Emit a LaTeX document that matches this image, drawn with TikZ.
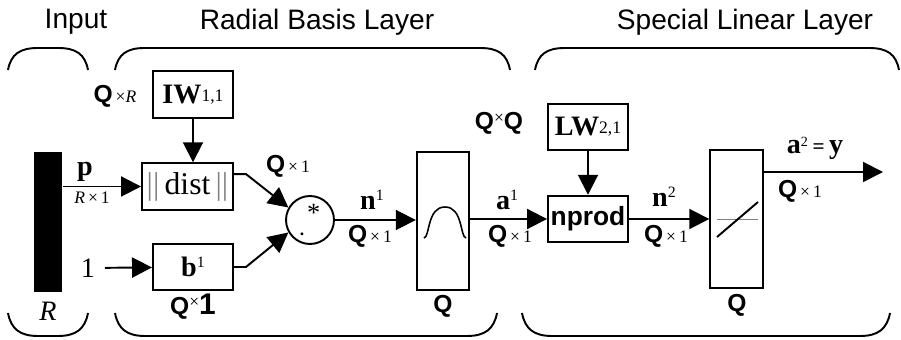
\documentclass[tikz,border=0pt]{standalone}
\usepackage{fontspec}
\setmainfont{Liberation Serif}
\setsansfont{Liberation Sans}
\usepackage{tikz}
\usetikzlibrary{arrows.meta, calc}

\newcommand{\fs}[1]{\fontsize{#1}{#1}\selectfont}
\newcommand{\qdim}[1]{{\sffamily\bfseries\fs{14}Q}{\fs{10}\,×\,#1}}

\begin{document}
\begin{tikzpicture}[
    x=0.02cm, y=-0.02cm,
    line width=1.1pt,
    wbox/.style={draw, minimum width=1.6cm, minimum height=0.93cm, inner sep=0pt, font=\fs{16}},
    tfbox/.style={draw, minimum width=1.05cm, minimum height=2.76cm, inner sep=0pt},
    arr/.style={-{Triangle[length=0.4cm, width=0.4cm]}},
    title/.style={font=\sffamily\fs{16}},
    lbl/.style={inner sep=0pt, font=\fs{16}},
]
    \useasboundingbox (0,0) rectangle (901,340);

    \node[title] (tin) at (76,22) {Input};
    \node[title] (trb) at (317,22) {Radial Basis Layer};
    \node[title] (tsl) at (745,22) {Special Linear Layer};

    \foreach \a/\b in {8/88, 115/510, 535/899}
        \draw (\a,70) .. controls (\a+3,54) and (\a+12,48) .. (\a+30,48) -- (\b-30,48)
              .. controls (\b-12,48) and (\b-3,54) .. (\b,70);
    \foreach \a/\b in {8/88, 115/497, 522/890}
        \draw (\a,313) .. controls (\a+3,329) and (\a+12,336) .. (\a+30,336) -- (\b-30,336)
              .. controls (\b-12,336) and (\b-3,329) .. (\b,313);

    \node[fill, minimum width=0.56cm, minimum height=2.8cm, inner sep=0pt] (bar) at (48,222) {};
    \node[lbl, font=\itshape\fs{16}] (rlbl) at (48,311) {R};

    \node[wbox] (iw) at (193,94.5) {\textbf{IW}\raisebox{1pt}{\fs{10}1,1}};
    \node[wbox, minimum width=1.82cm, font=\fs{18}] (dist) at (187.5,186.5) {\textcolor{gray}{||}\,dist\,\textcolor{gray}{||}};
    \node[wbox] (b) at (193,267) {\textbf{b}\raisebox{5pt}{\fs{9}1}};
    \node[draw, circle, minimum size=0.96cm, inner sep=0pt] (mul) at (310,220)
        {\raisebox{-5pt}{\textbf{.}}\,\raisebox{3pt}{\fs{15}*}};
    \node[tfbox] (rb) at (443,221) {};
    \node[wbox, font=\sffamily\bfseries\fs{15}] (np) at (588,219) {nprod};
    \node[wbox] (lw) at (588,127) {\textbf{LW}\raisebox{1pt}{\fs{10}2,1}};
    \node[tfbox] (lin) at (736.5,219) {};

    \draw[line width=0.9pt] (424,238) .. controls (430,237) and (427,207) .. (445,207)
        .. controls (463,207) and (460,237) .. (466,238);
    \draw[gray, line width=0.5pt] (717,219) -- (758,219);
    \draw (717,237) -- (758,202);

    \node[lbl, font=\bfseries\fs{16}] (plbl) at (85,172) {p};
    \node[lbl] (rdim) at (92,198) {{\fs{10}\textit{R}\,×\,1}};
    \node[lbl] (one) at (88,268) {1};
    \node[lbl] (qr) at (115,96) {{\sffamily\bfseries\fs{14}Q}{\fs{10}\,×\textit{R}}};
    \node[lbl] (qd1) at (288,166) {\qdim{1}};
    \node[lbl] (qb) at (193,307) {{\sffamily\bfseries\fs{14}Q}\raisebox{4pt}{\fs{10}×}{\sffamily\bfseries\fs{17}1}};
    \node[lbl] (n1) at (372,200) {\textbf{n}\raisebox{5pt}{\fs{9}1}};
    \node[lbl] (qd2) at (370,236) {\qdim{1}};
    \node[lbl, font=\sffamily\bfseries\fs{14}] (qrb) at (443,306) {Q};
    \node[lbl] (a1) at (507,200) {\textbf{a}\raisebox{5pt}{\fs{9}1}};
    \node[lbl] (qd3) at (510,236) {\qdim{1}};
    \node[lbl] (qq) at (499,123) {{\sffamily\bfseries\fs{14}Q}\raisebox{3pt}{\fs{10}×}{\sffamily\bfseries\fs{14}Q}};
    \node[lbl] (n2) at (664,197) {\textbf{n}\raisebox{5pt}{\fs{9}2}};
    \node[lbl] (qd4) at (666,236) {\qdim{1}};
    \node[lbl, font=\sffamily\bfseries\fs{14}] (qlin) at (737,305) {Q};
    \node[lbl] (a2) at (815,148) {\textbf{a}\raisebox{4pt}{\fs{8}2}\,{\fs{12}\textbf{=}}\,\textbf{y}};
    \node[lbl] (qd5) at (800,191) {\qdim{1}};

    \coordinate (yend) at (883,172);

    \draw[arr] (bar.east |- dist.west) -- (dist.west);
    \draw[arr, shorten <=5pt] (one) -- (b);
    \draw[arr] (iw.south) -- (iw.south |- dist.north);
    \draw[arr] (dist.15) -- ++(12,0) -- (mul.150);
    \draw[arr] (b.east) -- ++(12,0) -- (mul.210);
    \draw[arr] (mul.east) -- (mul.east -| rb.west);
    \draw[arr] (rb.east |- np.west) -- (np.west);
    \draw[arr] (lw) -- (np);
    \draw[arr] (np.east) -- (np.east -| lin.west);
    \draw[arr] (lin.east |- yend) -- (yend);
\end{tikzpicture}
\end{document}
